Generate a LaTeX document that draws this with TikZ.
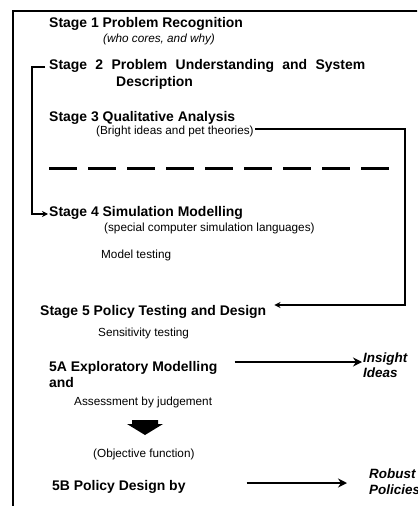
\documentclass[tikz,border=0pt]{standalone}
\usepackage{fontspec}
\setmainfont{Liberation Sans}
\usetikzlibrary{arrows.meta}
\begin{document}
\begin{tikzpicture}[x=1bp,y=-1bp,
  title/.style={anchor=base west, inner sep=0pt, font=\fontsize{14}{16}\selectfont\bfseries},
  note/.style={anchor=base west, inner sep=0pt, font=\fontsize{11.8}{14}\selectfont},
  outcome/.style={anchor=base west, inner sep=0pt, font=\fontsize{13.5}{15}\selectfont\bfseries\itshape},
  link/.style={line width=1.6bp, -{Stealth[length=6bp,width=6bp]}},
  flow/.style={line width=2bp, -{Stealth[length=9bp,width=9bp]}}]
\useasboundingbox (0,0) rectangle (417,506);
\clip (0,0) rectangle (417,506);

% outer frame
\draw[line width=2bp] (13,512) -- (13,11) -- (425,11);

% stages
\node[title] (s1) at (49,28) {Stage 1 Problem Recognition};
\node[note, font=\fontsize{11.8}{14}\selectfont\itshape] (s1n) at (103,43) {(who cores, and why)};
\node[title] (s2) at (49,70) {\makebox[316bp][s]{Stage 2 Problem Understanding and System}};
\node[title] (s2b) at (116,87) {Description};
\node[title] (s3) at (49,122) {Stage 3 Qualitative Analysis};
\node[note] (s3n) at (96,135) {(Bright ideas and pet theories)};
\node[title] (s4) at (49,216) {Stage 4 Simulation Modelling};
\node[note] (s4n) at (104,231) {(special computer simulation languages)};
\node[note] (mt) at (101,258) {Model testing};
\node[title] (s5) at (40,315) {Stage 5 Policy Testing and Design};
\node[note] (st) at (98,336) {Sensitivity testing};
\node[title] (s5a) at (49,371) {5A Exploratory Modelling};
\node[title] (s5a2) at (49,387) {and};
\node[outcome] (ins) at (363,362) {Insight};
\node[outcome] (ide) at (363,377) {Ideas};
\node[note] (asj) at (74,405) {Assessment by judgement};
\node[note] (obj) at (93,457) {(Objective function)};
\node[title] (s5b) at (52,490) {5B Policy Design by};
\node[outcome] (rob) at (369,478) {Robust};
\node[outcome] (pol) at (369,494) {Policies};

% qualitative / quantitative divide
\draw[line width=3bp, dash pattern=on 28bp off 11bp] (49,169) -- (389,169);

% stage 2 feeds straight into stage 4
\draw[link] ([shift={(-4,-3)}]s2.base west) -- ++(-13,0) |- ([shift={(-1,-2)}]s4.base west);

% stage 3 feeds into stage 5
\draw[link] ([shift={(1,-6)}]s3n.base east) -- ++(150,0) |- ([shift={(8,-10)}]s5.base east);

% outcomes
\draw[flow] ([shift={(17,-9)}]s5a.base east) -- ([xshift=-1bp]ins.base west);
\draw[flow] ([shift={(61,-7)}]s5b.base east) -- ([shift={(-22,5)}]rob.base west);

% block arrow from assessment to objective function
\fill (132,420) -- (158,420) -- (158,424) -- (163,424) -- (145,435)
  -- (127,424) -- (132,424) -- cycle;
\end{tikzpicture}
\end{document}
